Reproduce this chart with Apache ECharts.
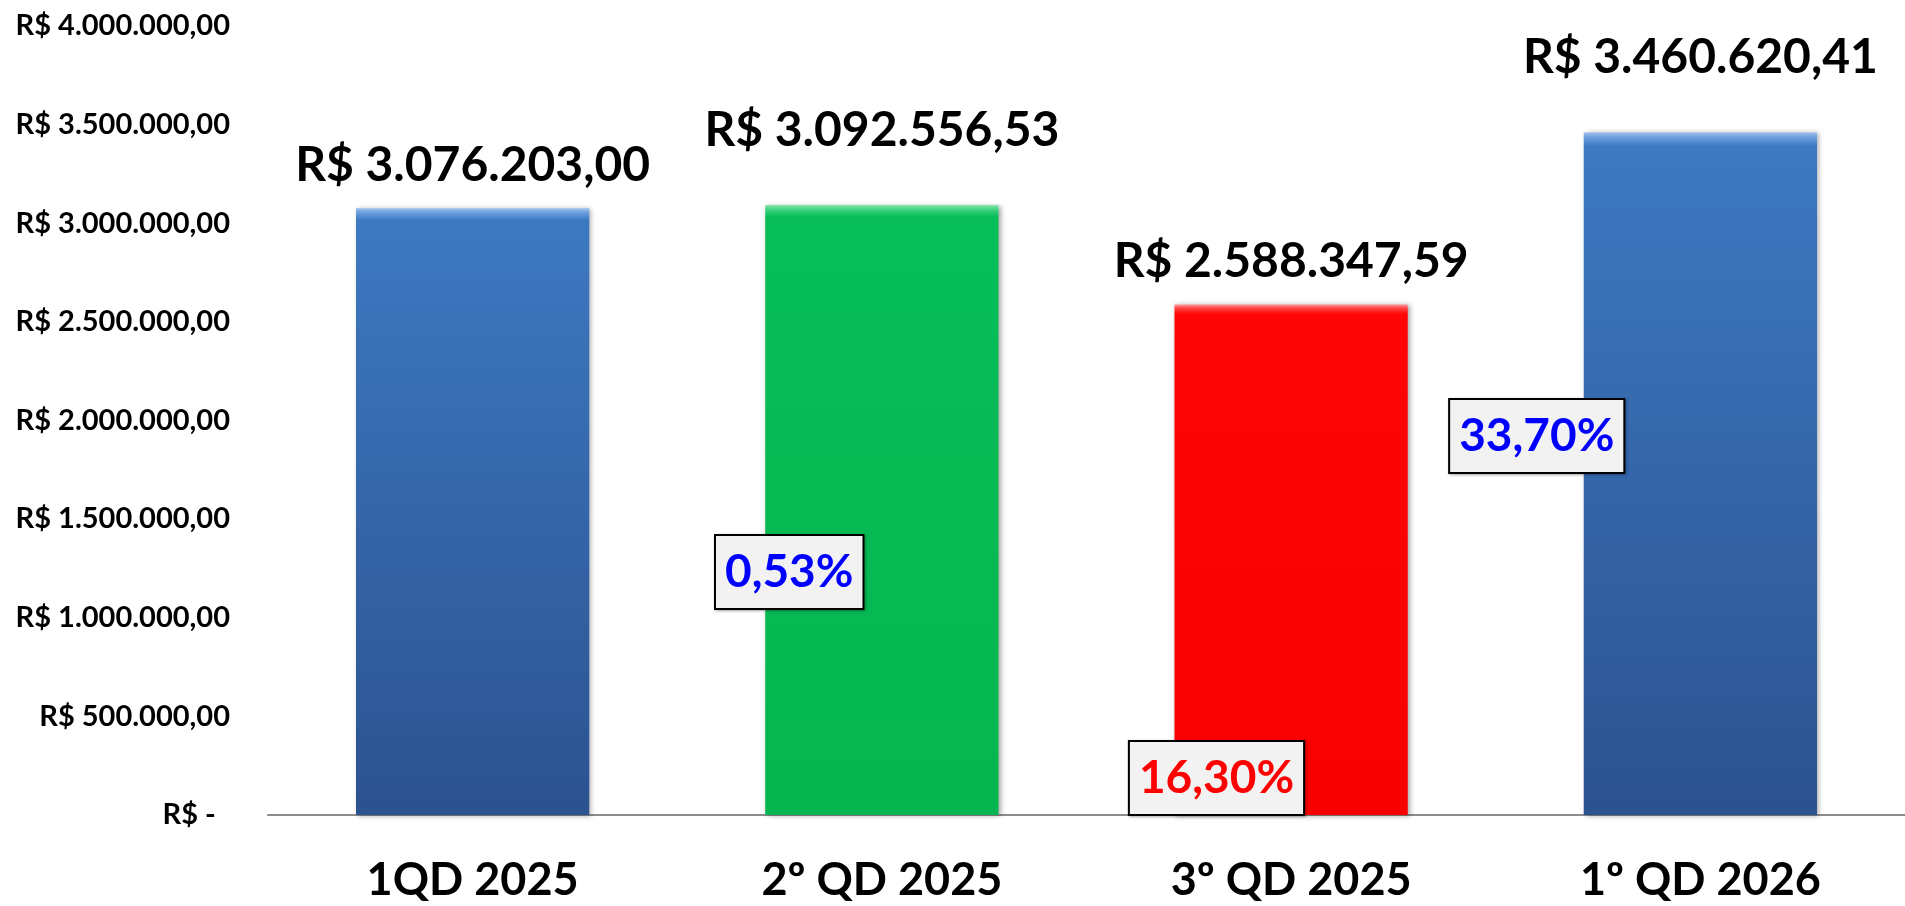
<!DOCTYPE html>
<html>
<head>
<meta charset="utf-8">
<script src="https://cdn.jsdelivr.net/npm/echarts@6/dist/echarts.min.js"></script>
<style>
  * { margin: 0; padding: 0; }
  html, body { width: 1905px; height: 906px; background: #fff; }
  #main { width: 1905px; height: 906px; }
</style>
</head>
<body>
<div id="main"></div>
<script>
// dados do gráfico
var trimestres = ['1QD 2025', '2º QD 2025', '3º QD 2025', '1º QD 2026'];
var valores = [3076203.00, 3092556.53, 2588347.59, 3460620.41];
// variação em relação ao período anterior (%)
var variacao = [null, 0.53, -16.30, 33.70];
var eixoMin = 0;
var eixoMax = 4000000;
var eixoPasso = 500000;

// formata em real: R$ 3.076.203,00
function brl(v) {
  var partes = v.toFixed(2).split('.');
  partes[0] = partes[0].replace(/\B(?=(\d{3})+(?!\d))/g, '.');
  return 'R$ ' + partes.join(',');
}

var fonte = 'Lato, "Open Sans", sans-serif';

// cores das barras
var azul = {
  type: 'linear', x: 0, y: 0, x2: 0, y2: 1,
  colorStops: [
    {offset: 0, color: '#9cc0ee'},
    {offset: 0.008, color: '#6a9ddb'},
    {offset: 0.016, color: '#4a84c9'},
    {offset: 0.02, color: '#3d79c1'},
    {offset: 1, color: '#2c5290'}
  ]
};
var verde = {
  type: 'linear', x: 0, y: 0, x2: 0, y2: 1,
  colorStops: [
    {offset: 0, color: '#8ae6ad'},
    {offset: 0.008, color: '#3cd27c'},
    {offset: 0.016, color: '#14c461'},
    {offset: 0.02, color: '#07be57'},
    {offset: 1, color: '#05b650'}
  ]
};
var vermelho = {
  type: 'linear', x: 0, y: 0, x2: 0, y2: 1,
  colorStops: [
    {offset: 0, color: '#ff9a9a'},
    {offset: 0.008, color: '#ff4040'},
    {offset: 0.016, color: '#ff1515'},
    {offset: 0.02, color: '#ff0505'},
    {offset: 1, color: '#f80000'}
  ]
};
var coresBarras = [azul, verde, vermelho, azul];
// distância dos rótulos de valor acima de cada barra (layout)
var alturaRotulo = [19, 50, 19, 51];
// posição das caixas de variação em relação ao canto inferior esquerdo da barra (layout)
var desvioCaixa = [null, [24, -243], [42, -37], [-47, -379]];

var chart = echarts.init(document.getElementById('main'));

chart.setOption({
  animation: false,
  grid: {left: 268, right: 0, top: 26, bottom: 91},
  xAxis: {
    type: 'category',
    data: trimestres,
    axisLine: {lineStyle: {color: '#8c8c8c', width: 2}},
    axisTick: {show: false},
    axisLabel: {
      margin: 43,
      color: '#000',
      fontFamily: fonte,
      fontWeight: 'bold',
      fontSize: 45
    }
  },
  yAxis: {
    type: 'value',
    min: eixoMin,
    max: eixoMax,
    interval: eixoPasso,
    axisLine: {show: false},
    axisTick: {show: false},
    splitLine: {show: false},
    axisLabel: {
      margin: 38,
      color: '#000',
      fontFamily: fonte,
      fontWeight: 'bold',
      fontSize: 29,
      formatter: function (v) {
        return v === 0 ? 'R$ -  ' : brl(v);
      }
    }
  },
  series: [
    {
      name: 'Valor',
      type: 'bar',
      barWidth: '57%',
      barGap: '-100%',
      data: valores.map(function (v, i) {
        return {
          value: v,
          itemStyle: {color: coresBarras[i]},
          label: {distance: alturaRotulo[i]}
        };
      }),
      itemStyle: {
        shadowColor: 'rgba(0,0,0,0.35)',
        shadowBlur: 5,
        shadowOffsetX: 2,
        shadowOffsetY: 1
      },
      label: {
        show: true,
        position: 'top',
        color: '#000',
        fontFamily: fonte,
        fontWeight: 'bold',
        fontSize: 48,
        formatter: function (p) { return brl(p.value); }
      }
    },
    {
      name: 'Variação',
      type: 'bar',
      barWidth: '57%',
      barGap: '-100%',
      silent: true,
      z: 5,
      itemStyle: {color: 'rgba(0,0,0,0)'},
      data: valores.map(function (v, i) {
        var pct = variacao[i];
        if (pct === null) return {value: v, label: {show: false}};
        return {
          value: v,
          label: {
            show: true,
            position: ['0%', '100%'],
            offset: desvioCaixa[i],
            align: 'center',
            verticalAlign: 'middle',
            color: pct < 0 ? '#ff0000' : '#0000ff',
            formatter: Math.abs(pct).toFixed(2).replace('.', ',') + '%'
          }
        };
      }),
      label: {
        fontFamily: fonte,
        fontWeight: 'bold',
        fontSize: 46,
        lineHeight: 52,
        backgroundColor: '#f2f2f2',
        borderColor: '#000',
        borderWidth: 2,
        padding: [10, 9, 10, 9],
        shadowColor: 'rgba(0,0,0,0.3)',
        shadowBlur: 3,
        shadowOffsetX: 1,
        shadowOffsetY: 1
      }
    }
  ]
});
</script>
</body>
</html>
